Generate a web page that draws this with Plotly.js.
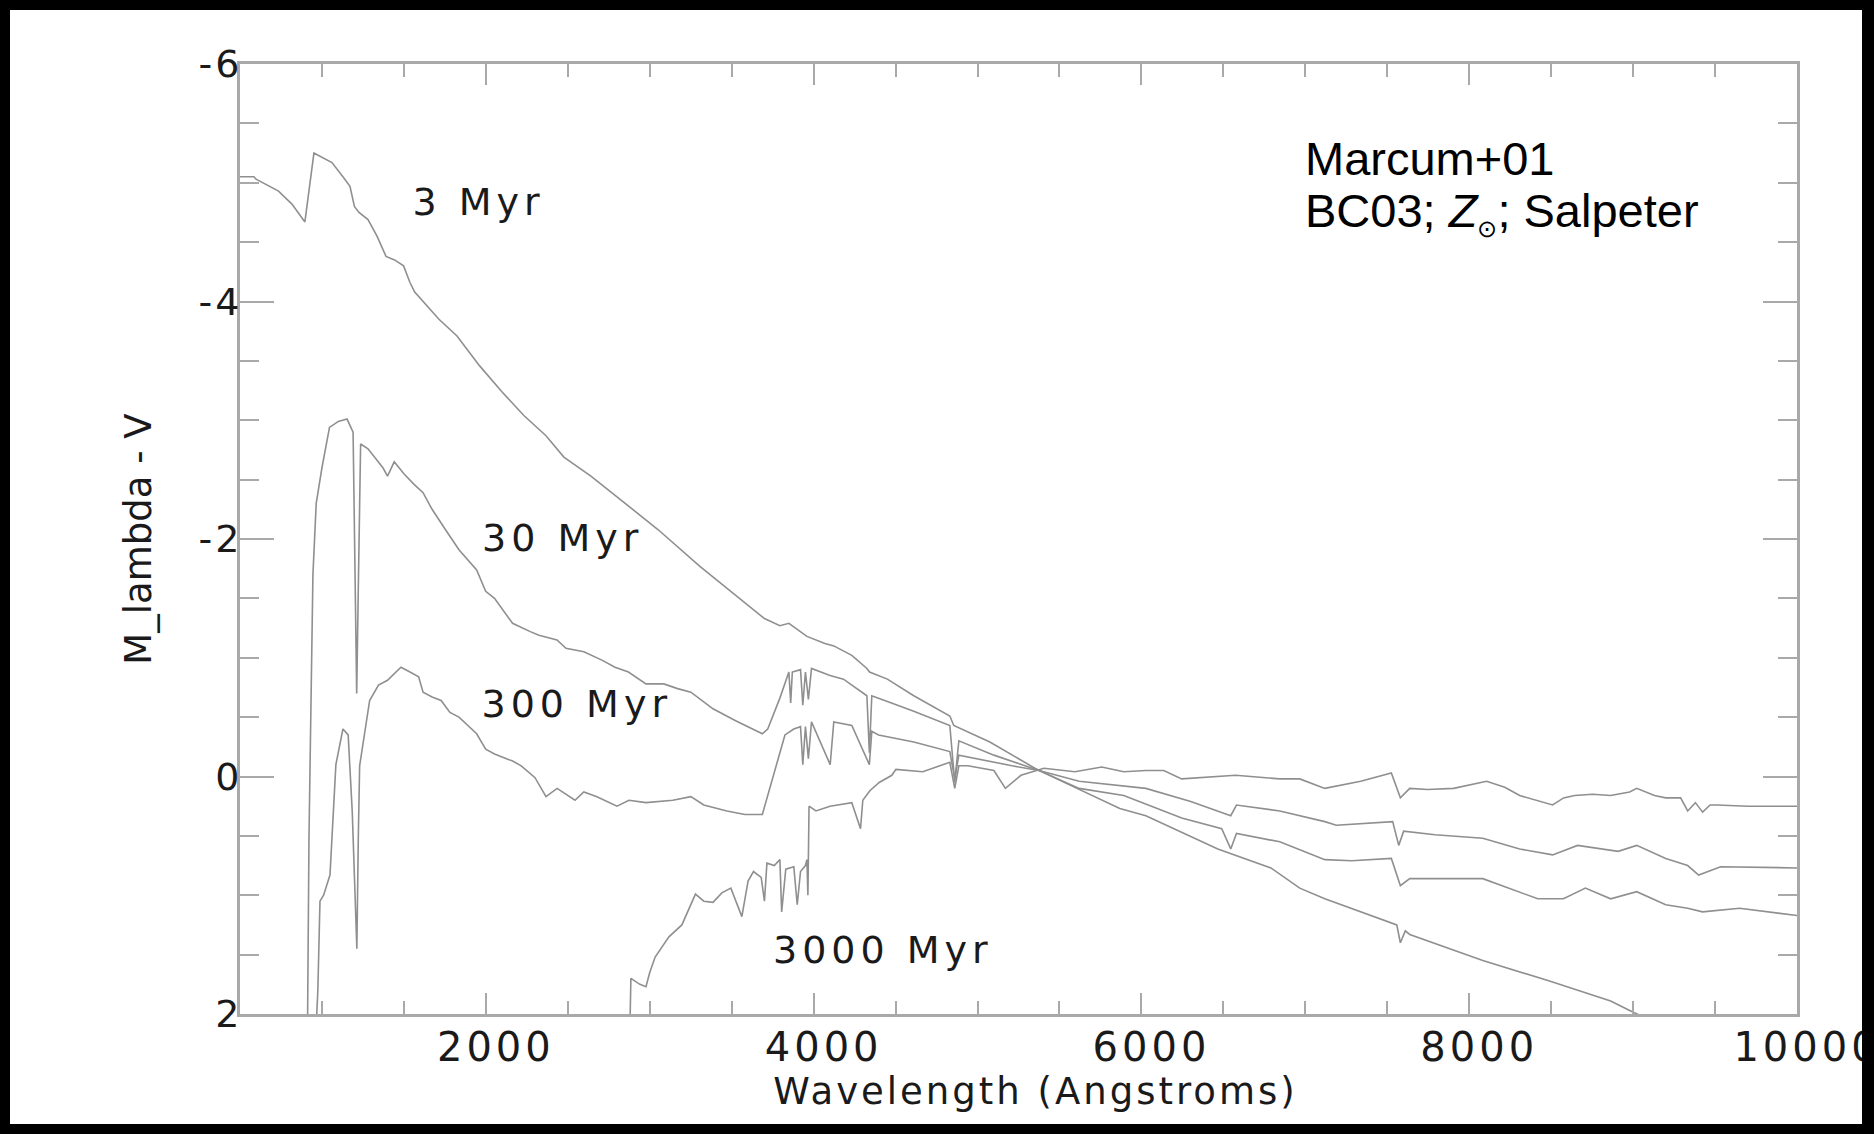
<!DOCTYPE html>
<html>
<head>
<meta charset="utf-8">
<script src="https://cdn.plot.ly/plotly-3.0.1.min.js"></script>
<style>
  html, body { margin: 0; padding: 0; background: #000; width: 1874px; height: 1134px; overflow: hidden; }
  #chart { position: absolute; left: 10px; top: 10px; width: 1852px; height: 1114px; background: #fff; }
  /* wide vector-style lettering for the axis text and age labels */
  .xtick text { letter-spacing: 4px; }
  .ytick text { letter-spacing: 3px; }
  text.xtitle { letter-spacing: 3px; transform: translateX(17px); }
  .annotation[data-index="0"] text, .annotation[data-index="1"] text,
  .annotation[data-index="2"] text, .annotation[data-index="3"] text { letter-spacing: 5px; }
</style>
</head>
<body>
<div id="chart"></div>
<script>
// Synthetic SSP spectra (BC03, solar metallicity, Salpeter IMF), M_lambda - V
const wl3 = [500, 585, 598, 735, 817, 896, 951, 1061, 1128, 1171, 1198, 1226, 1281, 1336, 1391, 1443, 1498, 1537, 1566, 1604,
             1714, 1824, 1961, 2098, 2232, 2367, 2476, 2641, 2914, 3050, 3306, 3524, 3700, 3794, 3849, 3959, 4069, 4123, 4233, 4325,
             4341, 4450, 4611, 4831, 4855, 5075, 5350, 5484, 5868, 6027, 6466, 6790, 6966, 7119, 7558, 7580, 7610, 7637, 8083, 8485,
             8753, 8863, 8979, 9100];
const m3  = [-5.05, -5.05, -5.03, -4.93, -4.82, -4.67, -5.25, -5.17, -5.05, -4.97, -4.80, -4.75, -4.69, -4.55, -4.38, -4.35, -4.30, -4.16, -4.08, -4.02,
             -3.85, -3.71, -3.46, -3.24, -3.04, -2.87, -2.69, -2.53, -2.23, -2.08, -1.77, -1.53, -1.33, -1.27, -1.29, -1.18, -1.12, -1.10, -1.02, -0.91,
             -0.88, -0.82, -0.68, -0.51, -0.43, -0.29, -0.07, 0.02, 0.27, 0.33, 0.61, 0.77, 0.94, 1.03, 1.25, 1.40, 1.30, 1.33, 1.55, 1.72,
             1.84, 1.89, 1.97, 2.05];

const wl30 = [912, 921, 945, 965, 1000, 1046, 1100, 1153, 1190, 1203, 1212, 1222, 1236, 1281, 1317, 1372, 1400, 1441, 1500, 1562,
              1617, 1672, 1753, 1836, 1944, 1999, 2053, 2163, 2271, 2324, 2434, 2489, 2598, 2708, 2788, 2870, 2977, 3086, 3170, 3251,
              3386, 3524, 3687, 3720, 3794, 3849, 3860, 3870, 3920, 3934, 3950, 3968, 3987, 4100, 4182, 4325, 4340, 4355, 4396, 4611,
              4831, 4861, 4886, 5100, 5375, 5620, 5892, 6246, 6490, 6545, 6580, 6844, 7119, 7283, 7525, 7580, 7637, 8083, 8418, 8575,
              8709, 8863, 9022, 9199, 9333, 9424, 9650, 10000];
const m30  = [2.1, 0.5, -1.7, -2.3, -2.6, -2.94, -2.99, -3.01, -2.90, -1.5, -0.7, -1.6, -2.80, -2.76, -2.70, -2.60, -2.53, -2.65, -2.55, -2.46,
              -2.39, -2.25, -2.08, -1.91, -1.74, -1.56, -1.50, -1.29, -1.22, -1.19, -1.15, -1.08, -1.05, -0.98, -0.92, -0.88, -0.78, -0.78, -0.74, -0.71,
              -0.57, -0.47, -0.36, -0.40, -0.66, -0.88, -0.62, -0.88, -0.90, -0.60, -0.88, -0.65, -0.91, -0.85, -0.82, -0.68, -0.20, -0.68, -0.66, -0.55,
              -0.43, 0.05, -0.30, -0.18, -0.05, 0.10, 0.16, 0.35, 0.44, 0.61, 0.48, 0.55, 0.70, 0.71, 0.69, 0.92, 0.86, 0.86, 1.03, 1.03,
              0.94, 1.03, 0.97, 1.08, 1.11, 1.14, 1.11, 1.17];

const wl300 = [965, 975, 988, 1010, 1049, 1067, 1085, 1128, 1160, 1185, 1200, 1213, 1222, 1230, 1291, 1345, 1400, 1482, 1537, 1590,
               1617, 1672, 1727, 1781, 1836, 1944, 1999, 2053, 2163, 2216, 2300, 2351, 2367, 2435, 2544, 2598, 2678, 2800, 2873, 2977,
               3141, 3251, 3330, 3471, 3581, 3687, 3770, 3825, 3879, 3920, 3934, 3950, 3968, 3987, 4101, 4123, 4233, 4340, 4355, 4396,
               4611, 4831, 4861, 4886, 5211, 5375, 5620, 5892, 6027, 6301, 6545, 6580, 6844, 7119, 7189, 7533, 7570, 7600, 7791, 8083,
               8308, 8509, 8661, 8909, 9022, 9199, 9333, 9400, 9534, 10000];
const m300  = [2.1, 1.8, 1.05, 1.0, 0.83, 0.38, -0.1, -0.40, -0.35, 0.3, 1.0, 1.45, 0.5, -0.09, -0.64, -0.77, -0.81, -0.92, -0.88, -0.84,
               -0.71, -0.67, -0.64, -0.54, -0.50, -0.36, -0.23, -0.19, -0.13, -0.09, 0.01, 0.13, 0.17, 0.10, 0.20, 0.13, 0.17, 0.25, 0.20, 0.22,
               0.20, 0.17, 0.24, 0.29, 0.32, 0.32, -0.07, -0.35, -0.40, -0.42, -0.10, -0.42, -0.15, -0.46, -0.10, -0.46, -0.43, -0.10, -0.38, -0.35,
               -0.29, -0.21, 0.02, -0.18, -0.09, -0.05, 0.04, 0.08, 0.10, 0.21, 0.33, 0.24, 0.29, 0.38, 0.41, 0.38, 0.58, 0.46, 0.49, 0.52,
               0.61, 0.66, 0.58, 0.63, 0.58, 0.69, 0.75, 0.83, 0.76, 0.77];

const wl3000 = [2880, 2885, 2940, 2977, 3000, 3033, 3117, 3196, 3279, 3330, 3386, 3440, 3495, 3562, 3600, 3633, 3680, 3700, 3715, 3760,
                3794, 3805, 3830, 3879, 3900, 3920, 3950, 3959, 3965, 3972, 4014, 4100, 4233, 4286, 4300, 4343, 4400, 4477, 4502, 4666,
                4831, 4861, 4886, 4941, 5100, 5170, 5265, 5405, 5594, 5758, 5892, 6027, 6136, 6246, 6575, 6844, 6966, 7119, 7338, 7525,
                7580, 7637, 7747, 7905, 8106, 8217, 8308, 8509, 8576, 8643, 8753, 8863, 8979, 9022, 9130, 9199, 9290, 9333, 9380, 9424,
                9470, 9514, 9700, 10000];
const m3000  = [2.05, 1.70, 1.75, 1.77, 1.65, 1.52, 1.35, 1.25, 0.99, 1.05, 1.06, 0.98, 0.94, 1.18, 0.88, 0.80, 0.85, 1.05, 0.73, 0.75,
                0.70, 1.14, 0.78, 0.76, 1.08, 0.80, 0.75, 0.70, 1.00, 0.25, 0.29, 0.25, 0.22, 0.44, 0.20, 0.12, 0.05, -0.01, -0.06, -0.04,
                -0.12, 0.10, -0.09, -0.09, -0.05, 0.10, -0.01, -0.07, -0.04, -0.08, -0.04, -0.05, -0.05, 0.02, -0.01, 0.02, 0.02, 0.10, 0.04, -0.03,
                0.18, 0.10, 0.11, 0.10, 0.04, 0.09, 0.16, 0.24, 0.18, 0.16, 0.15, 0.16, 0.13, 0.10, 0.16, 0.18, 0.18, 0.29, 0.22, 0.30,
                0.24, 0.24, 0.25, 0.25];

const ageLabels = ['3 Myr', '30 Myr', '300 Myr', '3000 Myr'];
const labelWl   = [1958, 2470, 2556, 4422];
const labelMag  = [-4.84, -2.01, -0.61, 1.46];

const yTickVals = [-6, -4, -2, 0, 2];
const yTickText = ['-6', '-4', '-2', '0', '2'];

const idlFont = 'DejaVu Sans, Verdana, sans-serif';
const ink = '#1a1a1a';
const frame = '#a9a9a9';
const curve = '#8f8f8f';

const spectra = [[wl3, m3], [wl30, m30], [wl300, m300], [wl3000, m3000]];
const traces = spectra.map(([x, y]) => ({
  x: x, y: y, type: 'scatter', mode: 'lines',
  line: { color: curve, width: 1.6 },
  hoverinfo: 'skip', showlegend: false
}));

const annotations = ageLabels.map((t, i) => ({
  x: labelWl[i], y: labelMag[i], xref: 'x', yref: 'y',
  text: t, showarrow: false,
  font: { family: idlFont, size: 38, color: ink }
}));
annotations.push({
  x: 0.683, y: 0.9005, xref: 'paper', yref: 'paper', xanchor: 'left', yanchor: 'middle',
  text: 'Marcum+01', showarrow: false, align: 'left',
  font: { family: 'Liberation Sans, Arial, sans-serif', size: 47, color: '#000' }
});
annotations.push({
  x: 0.683, y: 0.843, xref: 'paper', yref: 'paper', xanchor: 'left', yanchor: 'middle',
  text: 'BC03; <i>Z</i><sub><span style="font-size:24px">⊙</span></sub>; Salpeter', showarrow: false, align: 'left',
  font: { family: 'Liberation Sans, Arial, sans-serif', size: 47, color: '#000' }
});

const layout = {
  width: 1852, height: 1114,
  paper_bgcolor: '#fff', plot_bgcolor: '#fff',
  margin: { l: 230, r: 65, t: 54, b: 110 },
  showlegend: false,
  xaxis: {
    range: [500, 10000], tickmode: 'linear', tick0: 0, dtick: 2000, tickformat: 'd',
    ticks: 'inside', ticklen: 21, tickwidth: 2, tickcolor: frame,
    minor: { dtick: 500, ticks: 'inside', ticklen: 13, tickwidth: 2, tickcolor: frame, showgrid: false },
    showline: true, linecolor: frame, linewidth: 3, mirror: 'allticks',
    showgrid: false, zeroline: false,
    ticklabelshift: 10, ticklabelstandoff: -4, ticklabeloverflow: 'allow',
    tickfont: { family: idlFont, size: 40, color: ink },
    title: { text: 'Wavelength (Angstroms)', standoff: 2, font: { family: idlFont, size: 37, color: ink } },
    automargin: false
  },
  yaxis: {
    range: [2, -6], tickmode: 'array', tickvals: yTickVals, ticktext: yTickText,
    ticks: 'inside', ticklen: 34, tickwidth: 2, tickcolor: frame,
    minor: { dtick: 0.5, tick0: 0, ticks: 'inside', ticklen: 19, tickwidth: 2, tickcolor: frame, showgrid: false },
    showline: true, linecolor: frame, linewidth: 3, mirror: 'allticks',
    showgrid: false, zeroline: false,
    ticklabelstandoff: -13, ticklabeloverflow: 'allow',
    tickfont: { family: idlFont, size: 38, color: ink },
    title: { text: 'M_lambda - V', standoff: 36, font: { family: idlFont, size: 37, color: ink } },
    automargin: false
  },
  annotations: annotations
};

Plotly.newPlot('chart', traces, layout, { staticPlot: true, displayModeBar: false });
</script>
</body>
</html>
